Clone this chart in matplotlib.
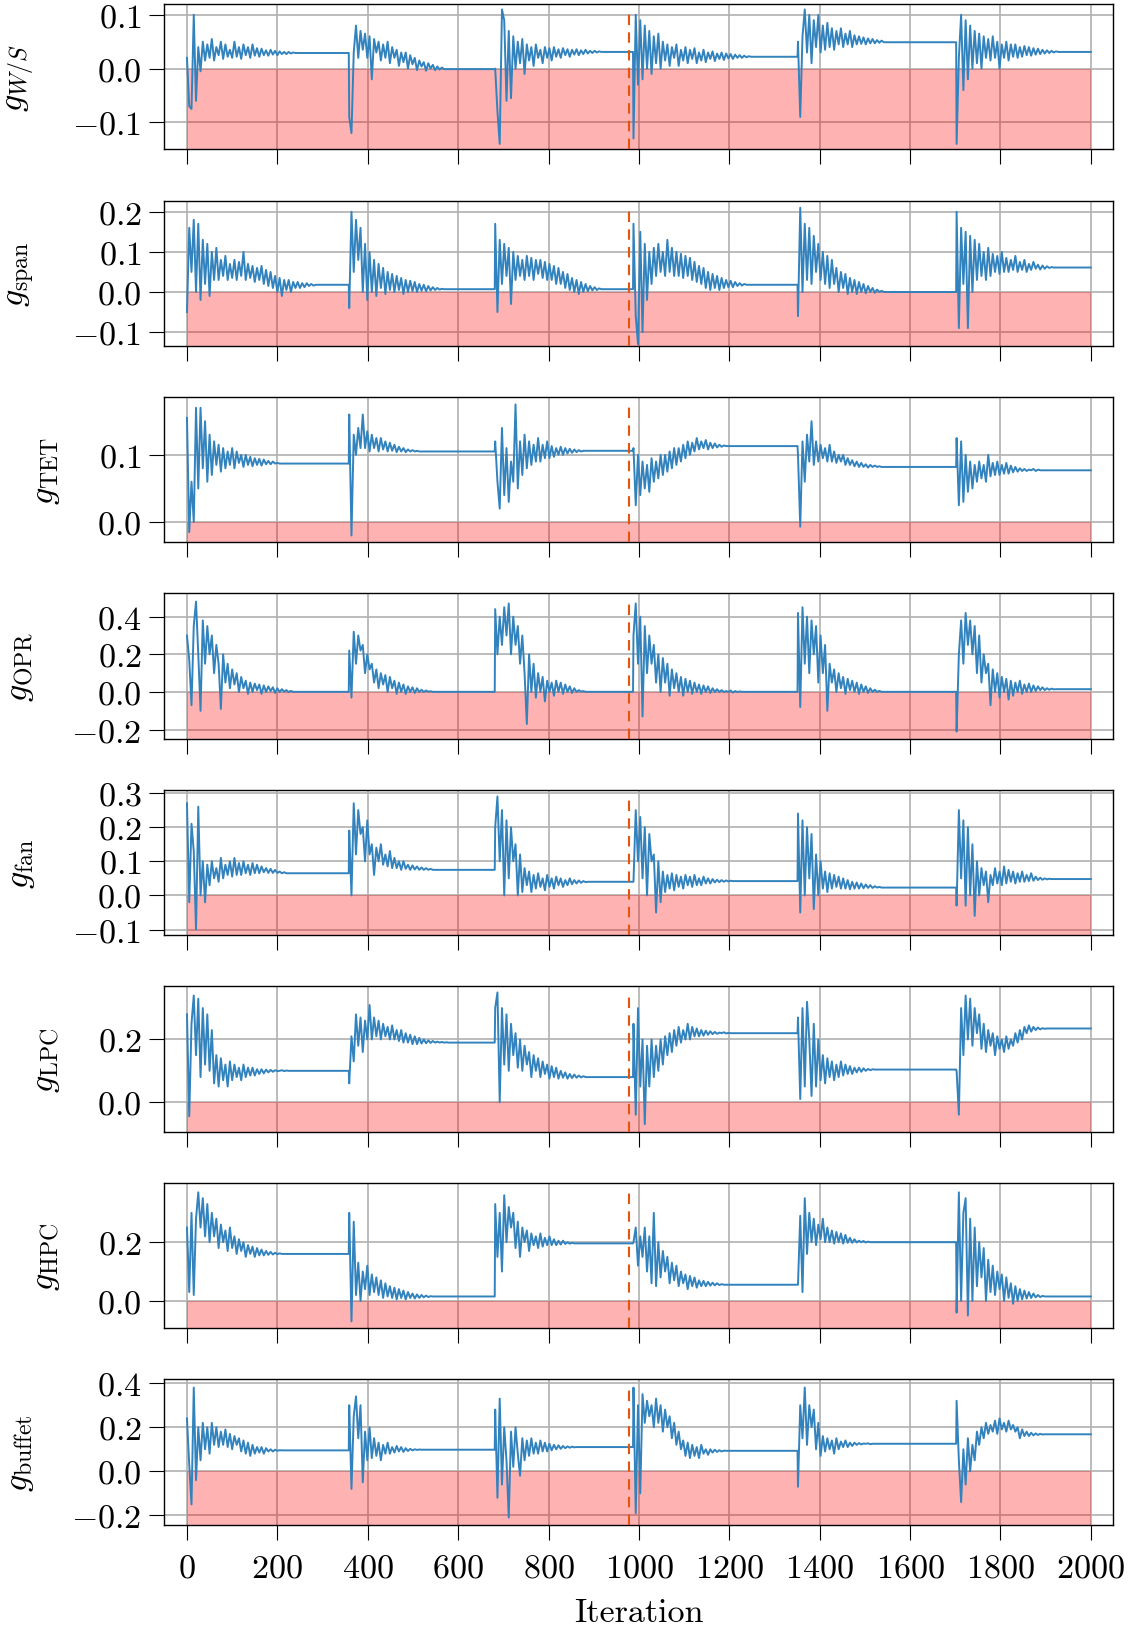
import matplotlib
matplotlib.use("Agg")
import matplotlib.pyplot as plt
from matplotlib.ticker import FuncFormatter

# Restart iterations of the optimiser and sampling step of the values below
restarts = [0, 359, 682, 988, 1352, 1703]
last_iter = 2000
step = 5
dashed_iter = 978

# Values, one list per restart segment (every 5 iterations);
# the last value of each list is held until the next restart
g_ws = [
    [0.02, -0.07, -0.075, 0.1, -0.06, 0.04, -0.005, 0.05, 0.015, 0.045, 0.02, 0.055, 0.015,
     0.04, 0.025, 0.05, 0.018, 0.045, 0.022, 0.035, 0.02, 0.05, 0.022, 0.04, 0.018, 0.045,
     0.025, 0.04, 0.02, 0.045, 0.024, 0.038, 0.022, 0.037, 0.025, 0.034, 0.024, 0.035, 0.026,
     0.033, 0.025, 0.032, 0.027, 0.031, 0.027, 0.031, 0.028, 0.030, 0.029],
    [-0.09, -0.12, 0.03, 0.08, 0.02, 0.07, 0.035, 0.065, 0.02, 0.06, -0.02, 0.055, 0.03, 0.05,
     0.015, 0.045, 0.02, 0.05, 0.01, 0.04, 0.02, 0.035, 0.005, 0.03, 0.012, 0.03, 0.0, 0.025,
     0.008, 0.02, -0.003, 0.015, 0.004, 0.012, -0.004, 0.01, 0.0, 0.007, -0.003, 0.004,
     -0.002, 0.002, -0.001],
    [0.0, -0.08, -0.14, 0.11, 0.09, -0.06, 0.07, -0.055, 0.06, 0.0, 0.05, 0.01, 0.055, -0.01,
     0.045, 0.015, 0.04, 0.005, 0.045, 0.02, 0.035, 0.01, 0.04, 0.02, 0.038, 0.015, 0.04,
     0.022, 0.036, 0.02, 0.038, 0.025, 0.036, 0.022, 0.035, 0.026, 0.036, 0.025, 0.034, 0.027,
     0.035, 0.028, 0.033, 0.029, 0.033, 0.03, 0.032, 0.031],
    [-0.13, 0.1, -0.03, 0.09, -0.02, 0.08, 0.0, 0.07, -0.01, 0.06, 0.01, 0.065, 0.0, 0.05,
     0.015, 0.045, 0.005, 0.04, 0.02, 0.045, 0.005, 0.035, 0.015, 0.04, 0.01, 0.035, 0.018,
     0.038, 0.01, 0.03, 0.015, 0.035, 0.012, 0.03, 0.018, 0.032, 0.014, 0.028, 0.018, 0.03,
     0.016, 0.028, 0.019, 0.027, 0.018, 0.026, 0.02, 0.025, 0.02, 0.024, 0.021, 0.023, 0.022],
    [0.05, -0.09, 0.06, 0.11, 0.03, 0.1, 0.01, 0.09, 0.04, 0.1, 0.03, 0.08, 0.035, 0.085, 0.04,
     0.075, 0.035, 0.07, 0.045, 0.075, 0.04, 0.065, 0.045, 0.07, 0.04, 0.062, 0.045, 0.06,
     0.046, 0.058, 0.045, 0.056, 0.047, 0.055, 0.047, 0.053, 0.048, 0.052, 0.049],
    [-0.14, 0.02, 0.1, -0.04, 0.09, -0.02, 0.08, 0.0, 0.07, 0.01, 0.065, 0.0, 0.06, 0.02,
     0.055, 0.015, 0.06, 0.02, 0.05, 0.0, 0.045, 0.02, 0.05, 0.015, 0.045, 0.022, 0.045, 0.02,
     0.04, 0.022, 0.042, 0.025, 0.04, 0.024, 0.038, 0.026, 0.037, 0.027, 0.035, 0.028, 0.034,
     0.029, 0.033, 0.03, 0.032, 0.031, 0.031],
]

g_span = [
    [-0.05, 0.16, 0.05, 0.18, 0.0, 0.17, -0.02, 0.13, 0.02, 0.12, -0.01, 0.1, 0.03, 0.11,
     0.03, 0.08, 0.04, 0.09, 0.03, 0.07, 0.035, 0.08, 0.03, 0.075, 0.04, 0.1, 0.03, 0.07,
     0.035, 0.065, 0.025, 0.06, 0.03, 0.065, 0.02, 0.055, 0.015, 0.05, 0.01, 0.04, 0.0, 0.035,
     -0.01, 0.03, 0.005, 0.03, 0.0, 0.025, 0.01, 0.025, 0.01, 0.022, 0.012, 0.022, 0.015, 0.02,
     0.016, 0.018],
    [-0.04, 0.2, 0.05, 0.18, 0.08, 0.16, 0.0, 0.12, -0.02, 0.1, 0.0, 0.08, -0.01, 0.07, 0.01,
     0.06, -0.005, 0.05, 0.005, 0.045, 0.0, 0.04, 0.005, 0.035, -0.005, 0.03, 0.0, 0.028,
     0.002, 0.025, 0.0, 0.02, 0.003, 0.018, 0.002, 0.015, 0.004, 0.012, 0.005, 0.01, 0.006,
     0.008, 0.007],
    [0.17, -0.05, 0.13, 0.02, 0.12, 0.04, 0.11, -0.03, 0.1, 0.03, 0.09, 0.04, 0.08, 0.03, 0.09,
     0.04, 0.085, 0.03, 0.08, 0.045, 0.08, 0.035, 0.075, 0.03, 0.07, 0.03, 0.065, 0.02, 0.06,
     0.02, 0.05, 0.01, 0.045, 0.005, 0.035, 0.0, 0.03, -0.005, 0.025, 0.0, 0.02, 0.002, 0.015,
     0.004, 0.012, 0.005, 0.009, 0.007],
    [0.17, -0.06, -0.13, 0.15, -0.1, 0.12, -0.02, 0.1, 0.02, 0.11, 0.04, 0.12, 0.05, 0.1, 0.04,
     0.13, 0.05, 0.11, 0.04, 0.1, 0.04, 0.095, 0.035, 0.09, 0.04, 0.085, 0.03, 0.075, 0.025,
     0.065, 0.02, 0.06, 0.01, 0.05, 0.005, 0.045, 0.01, 0.04, 0.005, 0.035, 0.01, 0.03, 0.012,
     0.028, 0.012, 0.025, 0.015, 0.022, 0.016, 0.02, 0.018],
    [-0.06, 0.21, 0.0, 0.17, 0.03, 0.16, 0.02, 0.14, 0.05, 0.12, 0.03, 0.1, 0.02, 0.09, 0.01,
     0.08, 0.02, 0.06, 0.0, 0.05, 0.01, 0.045, -0.005, 0.035, 0.0, 0.03, -0.005, 0.025, 0.0,
     0.02, -0.003, 0.015, 0.0, 0.01, -0.002, 0.006, 0.0, 0.003, 0.0],
    [0.2, -0.09, 0.16, 0.02, 0.15, -0.09, 0.14, 0.0, 0.13, 0.03, 0.12, 0.04, 0.1, 0.03, 0.11,
     0.04, 0.095, 0.05, 0.09, 0.045, 0.1, 0.05, 0.085, 0.05, 0.08, 0.055, 0.09, 0.05, 0.075,
     0.055, 0.08, 0.05, 0.07, 0.055, 0.075, 0.058, 0.068, 0.056, 0.066, 0.058, 0.064, 0.06,
     0.062, 0.061],
]

g_tet = [
    [0.155, -0.015, 0.06, 0.0, 0.17, 0.05, 0.17, 0.08, 0.15, 0.06, 0.13, 0.07, 0.12, 0.085,
     0.115, 0.075, 0.11, 0.08, 0.105, 0.085, 0.11, 0.08, 0.105, 0.088, 0.1, 0.082, 0.1, 0.085,
     0.097, 0.083, 0.095, 0.085, 0.094, 0.084, 0.093, 0.086, 0.091, 0.086, 0.09, 0.087, 0.088,
     0.087],
    [0.16, -0.02, 0.13, 0.1, 0.14, 0.11, 0.16, 0.11, 0.135, 0.105, 0.13, 0.11, 0.125, 0.105,
     0.125, 0.108, 0.12, 0.105, 0.118, 0.106, 0.115, 0.104, 0.112, 0.105, 0.11, 0.104, 0.108,
     0.105, 0.107, 0.105, 0.106, 0.105],
    [0.12, 0.06, 0.02, 0.14, 0.04, 0.11, 0.03, 0.09, 0.06, 0.175, 0.05, 0.12, 0.07, 0.13, 0.08,
     0.12, 0.085, 0.115, 0.09, 0.125, 0.09, 0.115, 0.095, 0.12, 0.095, 0.113, 0.097, 0.11, 0.1,
     0.112, 0.1, 0.11, 0.102, 0.109, 0.103, 0.108, 0.104, 0.107, 0.105, 0.106],
    [0.11, 0.025, 0.1, 0.04, 0.09, 0.05, 0.085, 0.045, 0.095, 0.06, 0.09, 0.065, 0.1, 0.07,
     0.1, 0.075, 0.105, 0.08, 0.11, 0.085, 0.11, 0.09, 0.115, 0.095, 0.12, 0.1, 0.118, 0.105,
     0.125, 0.108, 0.12, 0.11, 0.122, 0.108, 0.118, 0.11, 0.117, 0.111, 0.115, 0.112, 0.114,
     0.113],
    [0.1, -0.007, 0.12, 0.06, 0.13, 0.09, 0.15, 0.085, 0.12, 0.09, 0.115, 0.095, 0.11, 0.09,
     0.115, 0.09, 0.105, 0.088, 0.1, 0.09, 0.1, 0.085, 0.095, 0.085, 0.092, 0.083, 0.09, 0.082,
     0.088, 0.082, 0.086, 0.081, 0.085, 0.082, 0.084, 0.082, 0.083, 0.082],
    [0.125, 0.025, 0.12, 0.03, 0.1, 0.045, 0.09, 0.05, 0.085, 0.06, 0.09, 0.065, 0.085, 0.06,
     0.1, 0.068, 0.088, 0.07, 0.09, 0.07, 0.085, 0.072, 0.088, 0.072, 0.084, 0.074, 0.082,
     0.075, 0.08, 0.076, 0.079, 0.076, 0.078, 0.077, 0.079, 0.076, 0.078, 0.077],
]

g_opr = [
    [0.3, 0.17, -0.07, 0.35, 0.48, 0.2, -0.1, 0.38, 0.15, 0.35, 0.2, 0.3, 0.1, 0.25, 0.15,
     -0.09, 0.2, 0.05, 0.15, 0.02, 0.12, 0.04, 0.1, 0.0, 0.08, 0.02, 0.06, -0.01, 0.05, 0.0,
     0.045, 0.01, 0.04, -0.01, 0.035, 0.0, 0.03, 0.005, 0.025, -0.005, 0.02, 0.0, 0.015, 0.002,
     0.01, 0.0, 0.006, 0.001],
    [0.22, -0.03, 0.32, 0.15, 0.3, 0.22, 0.25, 0.1, 0.2, 0.12, 0.15, 0.05, 0.12, 0.02, 0.1,
     0.04, 0.09, 0.0, 0.08, 0.02, 0.06, -0.01, 0.05, 0.0, 0.04, -0.01, 0.03, 0.0, 0.025,
     -0.005, 0.02, 0.0, 0.012, 0.0, 0.008, 0.002, 0.004, 0.001],
    [0.44, 0.2, 0.4, 0.25, 0.45, 0.3, 0.47, 0.2, 0.4, 0.25, 0.35, 0.15, 0.3, 0.1, -0.17, 0.2,
     0.0, 0.15, -0.03, 0.1, 0.0, 0.08, -0.05, 0.06, 0.0, 0.05, -0.02, 0.06, 0.0, 0.05, -0.01,
     0.04, 0.0, 0.03, -0.005, 0.02, 0.0, 0.01, 0.002, 0.005, 0.001],
    [0.3, 0.47, 0.15, 0.4, -0.13, 0.35, 0.1, 0.3, 0.15, 0.25, 0.05, 0.2, 0.0, 0.18, 0.05, 0.15,
     -0.02, 0.12, 0.02, 0.1, 0.0, 0.08, -0.02, 0.07, 0.0, 0.06, -0.01, 0.05, 0.0, 0.04, -0.01,
     0.035, 0.0, 0.03, -0.005, 0.02, 0.0, 0.015, 0.0, 0.01, 0.0, 0.005, 0.001, 0.008, -0.003,
     0.005, 0.0, 0.003, 0.001],
    [0.42, -0.08, 0.45, 0.15, 0.4, 0.1, 0.38, 0.2, 0.35, 0.05, 0.3, 0.1, 0.25, -0.1, 0.15,
     0.05, 0.12, 0.0, 0.1, 0.02, 0.08, -0.01, 0.07, 0.01, 0.06, 0.0, 0.05, -0.01, 0.04, 0.0,
     0.03, -0.005, 0.02, 0.0, 0.012, 0.0, 0.006, 0.001],
    [-0.21, 0.2, 0.38, 0.15, 0.42, 0.25, 0.38, 0.2, 0.35, 0.1, 0.3, 0.05, 0.2, 0.1, 0.15,
     -0.07, 0.12, 0.0, 0.1, -0.03, 0.08, 0.0, 0.07, -0.04, 0.06, -0.02, 0.05, 0.0, 0.06, -0.01,
     0.04, 0.0, 0.045, 0.0, 0.035, 0.005, 0.03, 0.01, 0.025, 0.01, 0.02, 0.012, 0.018, 0.014,
     0.015],
]

g_fan = [
    [0.27, -0.02, 0.21, 0.13, -0.1, 0.26, 0.0, 0.1, -0.02, 0.09, 0.03, 0.1, 0.05, 0.08, 0.04,
     0.11, 0.05, 0.09, 0.06, 0.1, 0.055, 0.11, 0.06, 0.095, 0.06, 0.1, 0.065, 0.09, 0.06,
     0.095, 0.065, 0.09, 0.065, 0.085, 0.068, 0.08, 0.066, 0.078, 0.066, 0.075, 0.066, 0.07,
     0.065, 0.068, 0.065],
    [0.19, 0.0, 0.27, 0.12, 0.25, 0.18, 0.2, 0.1, 0.22, 0.12, 0.15, 0.06, 0.14, 0.1, 0.15,
     0.09, 0.12, 0.085, 0.13, 0.08, 0.11, 0.08, 0.1, 0.075, 0.1, 0.078, 0.09, 0.075, 0.088,
     0.076, 0.085, 0.075, 0.082, 0.075, 0.08, 0.075, 0.078, 0.075],
    [0.2, 0.29, 0.1, 0.25, 0.0, 0.22, 0.05, 0.2, 0.1, 0.15, 0.0, 0.12, 0.01, 0.08, 0.03, 0.07,
     0.01, 0.06, 0.02, 0.065, 0.025, 0.05, 0.015, 0.06, 0.025, 0.05, 0.02, 0.055, 0.03, 0.05,
     0.025, 0.045, 0.03, 0.05, 0.033, 0.045, 0.035, 0.044, 0.037, 0.042, 0.039, 0.04],
    [0.04, 0.25, 0.1, 0.23, 0.05, 0.2, 0.0, 0.18, 0.1, 0.12, -0.05, 0.1, -0.02, 0.07, 0.01,
     0.06, 0.02, 0.065, 0.015, 0.06, 0.025, 0.055, 0.02, 0.06, 0.03, 0.055, 0.025, 0.06, 0.03,
     0.05, 0.03, 0.055, 0.035, 0.05, 0.035, 0.048, 0.038, 0.046, 0.039, 0.045, 0.04, 0.044,
     0.041, 0.043, 0.042],
    [0.24, -0.05, 0.22, 0.0, 0.2, 0.05, 0.18, -0.04, 0.12, 0.0, 0.1, 0.02, 0.07, 0.01, 0.065,
     0.02, 0.06, 0.025, 0.055, 0.02, 0.05, 0.02, 0.045, 0.018, 0.04, 0.02, 0.038, 0.02, 0.035,
     0.021, 0.032, 0.022, 0.03, 0.022, 0.027, 0.023, 0.025, 0.023],
    [-0.03, 0.25, 0.05, 0.22, -0.03, 0.2, 0.0, 0.15, -0.06, 0.1, 0.0, 0.08, 0.03, 0.07, -0.02,
     0.06, 0.03, 0.08, 0.035, 0.07, 0.03, 0.085, 0.035, 0.075, 0.04, 0.07, 0.035, 0.065, 0.04,
     0.07, 0.04, 0.06, 0.042, 0.065, 0.043, 0.055, 0.045, 0.052, 0.046, 0.05, 0.047, 0.049,
     0.048],
]

g_lpc = [
    [0.28, -0.045, 0.25, 0.34, 0.15, 0.33, 0.08, 0.3, 0.12, 0.28, 0.1, 0.23, 0.06, 0.15, 0.05,
     0.14, 0.07, 0.12, 0.05, 0.13, 0.07, 0.12, 0.08, 0.11, 0.07, 0.12, 0.08, 0.11, 0.085, 0.11,
     0.085, 0.105, 0.09, 0.105, 0.092, 0.104, 0.095, 0.103, 0.097, 0.102, 0.099, 0.1, 0.102,
     0.099, 0.101, 0.1],
    [0.06, 0.21, 0.13, 0.28, 0.18, 0.27, 0.16, 0.26, 0.2, 0.31, 0.2, 0.27, 0.21, 0.26, 0.2,
     0.25, 0.21, 0.24, 0.2, 0.245, 0.2, 0.23, 0.195, 0.23, 0.19, 0.22, 0.19, 0.215, 0.185,
     0.21, 0.185, 0.205, 0.187, 0.2, 0.188, 0.197, 0.189, 0.195, 0.19, 0.193, 0.19, 0.192,
     0.19, 0.191, 0.19],
    [0.3, 0.35, 0.0, 0.3, 0.12, 0.28, 0.1, 0.25, 0.15, 0.22, 0.11, 0.2, 0.1, 0.18, 0.12, 0.16,
     0.08, 0.15, 0.1, 0.14, 0.08, 0.13, 0.09, 0.12, 0.075, 0.115, 0.08, 0.11, 0.075, 0.1,
     0.078, 0.095, 0.075, 0.09, 0.077, 0.088, 0.078, 0.085, 0.079, 0.083, 0.08],
    [0.25, -0.04, 0.3, 0.05, 0.2, -0.07, 0.18, 0.05, 0.2, 0.08, 0.18, 0.1, 0.2, 0.12, 0.21,
     0.15, 0.22, 0.16, 0.23, 0.18, 0.24, 0.19, 0.23, 0.2, 0.25, 0.2, 0.24, 0.21, 0.235, 0.21,
     0.23, 0.212, 0.228, 0.215, 0.226, 0.217, 0.224, 0.218, 0.222, 0.22, 0.223, 0.219, 0.221,
     0.22],
    [0.27, 0.01, 0.3, 0.05, 0.32, 0.2, 0.02, 0.25, 0.05, 0.2, 0.07, 0.15, 0.06, 0.14, 0.08,
     0.13, 0.07, 0.12, 0.08, 0.13, 0.085, 0.12, 0.09, 0.115, 0.09, 0.11, 0.095, 0.11, 0.097,
     0.108, 0.1, 0.106, 0.102, 0.105, 0.104],
    [0.1, -0.04, 0.3, 0.15, 0.34, 0.2, 0.33, 0.18, 0.3, 0.22, 0.28, 0.17, 0.25, 0.16, 0.23,
     0.18, 0.22, 0.15, 0.21, 0.17, 0.2, 0.16, 0.21, 0.17, 0.2, 0.18, 0.22, 0.19, 0.23, 0.2,
     0.24, 0.22, 0.245, 0.225, 0.24, 0.23, 0.238, 0.232, 0.236, 0.234, 0.235],
]

g_hpc = [
    [0.25, 0.03, 0.3, 0.02, 0.28, 0.37, 0.25, 0.35, 0.22, 0.33, 0.2, 0.3, 0.22, 0.28, 0.18,
     0.26, 0.2, 0.24, 0.17, 0.25, 0.18, 0.22, 0.16, 0.21, 0.17, 0.2, 0.15, 0.19, 0.16, 0.185,
     0.15, 0.18, 0.155, 0.175, 0.155, 0.17, 0.157, 0.167, 0.158, 0.164, 0.159, 0.162, 0.16],
    [0.3, -0.07, 0.27, 0.02, 0.13, 0.0, 0.1, 0.04, 0.12, 0.02, 0.09, 0.03, 0.08, 0.02, 0.07,
     0.01, 0.06, 0.015, 0.05, 0.01, 0.045, 0.005, 0.04, 0.01, 0.035, 0.005, 0.03, 0.01, 0.025,
     0.008, 0.022, 0.01, 0.02, 0.012, 0.018, 0.013, 0.016, 0.015],
    [0.33, 0.15, 0.3, 0.1, 0.36, 0.2, 0.32, 0.25, 0.3, 0.18, 0.27, 0.15, 0.25, 0.2, 0.24,
     0.17, 0.23, 0.19, 0.22, 0.18, 0.23, 0.185, 0.215, 0.19, 0.22, 0.19, 0.21, 0.19, 0.205,
     0.192, 0.205, 0.194, 0.2, 0.195, 0.198, 0.196],
    [0.2, 0.25, 0.12, 0.22, 0.15, 0.25, 0.1, 0.22, 0.06, 0.3, 0.05, 0.2, 0.08, 0.17, 0.1, 0.15,
     0.06, 0.13, 0.07, 0.12, 0.05, 0.1, 0.06, 0.09, 0.04, 0.085, 0.05, 0.08, 0.045, 0.07, 0.05,
     0.068, 0.05, 0.065, 0.052, 0.062, 0.053, 0.06, 0.054, 0.057, 0.055],
    [0.055, 0.29, 0.03, 0.35, 0.16, 0.3, 0.2, 0.28, 0.19, 0.26, 0.21, 0.28, 0.2, 0.25, 0.2,
     0.24, 0.195, 0.235, 0.2, 0.23, 0.195, 0.225, 0.198, 0.215, 0.198, 0.21, 0.199, 0.205, 0.2,
     0.204, 0.199, 0.202, 0.2],
    [-0.04, 0.37, 0.0, 0.3, 0.35, -0.05, 0.28, 0.0, 0.25, 0.05, 0.2, 0.08, 0.18, 0.0, 0.14,
     0.03, 0.12, 0.02, 0.1, 0.04, 0.09, 0.0, 0.08, 0.01, 0.06, -0.01, 0.05, 0.0, 0.04, 0.005,
     0.035, 0.008, 0.03, 0.01, 0.025, 0.012, 0.02, 0.013, 0.017, 0.015],
]

g_buffet = [
    [0.24, 0.03, -0.15, 0.38, -0.04, 0.2, 0.05, 0.22, 0.1, 0.2, 0.08, 0.22, 0.12, 0.2, 0.11,
     0.18, 0.12, 0.19, 0.11, 0.17, 0.1, 0.16, 0.12, 0.15, 0.09, 0.14, 0.08, 0.13, 0.07, 0.12,
     0.08, 0.11, 0.085, 0.11, 0.08, 0.105, 0.09, 0.1, 0.09, 0.098, 0.093, 0.096, 0.095],
    [0.3, -0.08, 0.25, 0.34, 0.15, 0.3, -0.05, 0.18, 0.05, 0.2, 0.06, 0.15, 0.07, 0.13, 0.05,
     0.12, 0.08, 0.13, 0.08, 0.11, 0.085, 0.115, 0.09, 0.11, 0.088, 0.105, 0.092, 0.102, 0.095,
     0.1, 0.097, 0.099, 0.098],
    [0.28, -0.12, 0.33, -0.06, 0.2, 0.05, -0.21, 0.18, 0.02, 0.2, 0.08, -0.02, 0.15, 0.05,
     0.14, 0.07, 0.15, 0.08, 0.13, 0.08, 0.14, 0.09, 0.13, 0.09, 0.125, 0.095, 0.12, 0.1,
     0.118, 0.102, 0.115, 0.105, 0.113, 0.107, 0.112, 0.109, 0.11],
    [0.38, -0.19, 0.3, -0.1, 0.35, 0.22, 0.32, 0.25, 0.3, 0.2, 0.33, 0.22, 0.3, 0.18, 0.28,
     0.2, 0.25, 0.15, 0.22, 0.12, 0.18, 0.1, 0.14, 0.07, 0.13, 0.06, 0.12, 0.07, 0.11, 0.06,
     0.12, 0.08, 0.1, 0.075, 0.1, 0.085, 0.098, 0.088, 0.096, 0.09, 0.094, 0.093],
    [-0.07, 0.3, 0.15, 0.38, 0.12, 0.3, 0.2, 0.28, 0.1, 0.22, 0.07, 0.16, 0.09, 0.15, 0.1,
     0.14, 0.08, 0.15, 0.1, 0.135, 0.11, 0.14, 0.11, 0.13, 0.115, 0.13, 0.12, 0.128, 0.122,
     0.126, 0.125, 0.127, 0.123, 0.125],
    [0.32, 0.05, -0.14, 0.1, -0.06, 0.15, 0.0, 0.12, 0.05, 0.18, 0.12, 0.2, 0.15, 0.22, 0.17,
     0.21, 0.18, 0.23, 0.17, 0.24, 0.19, 0.22, 0.18, 0.23, 0.19, 0.21, 0.18, 0.2, 0.15, 0.19,
     0.16, 0.18, 0.16, 0.175, 0.163, 0.172, 0.165, 0.17, 0.167, 0.168],
]

series = [g_ws, g_span, g_tet, g_opr, g_fan, g_lpc, g_hpc, g_buffet]
labels = [r"$g_{W/S}$", r"$g_{\mathrm{span}}$", r"$g_{\mathrm{TET}}$", r"$g_{\mathrm{OPR}}$",
          r"$g_{\mathrm{fan}}$", r"$g_{\mathrm{LPC}}$", r"$g_{\mathrm{HPC}}$",
          r"$g_{\mathrm{buffet}}$"]
ylims = [(-0.15, 0.12), (-0.134, 0.228), (-0.03, 0.186), (-0.248, 0.523),
         (-0.1165, 0.309), (-0.094, 0.369), (-0.093, 0.402), (-0.242, 0.417)]
yticks = [[-0.1, 0.0, 0.1], [-0.1, 0.0, 0.1, 0.2], [0.0, 0.1], [-0.2, 0.0, 0.2, 0.4],
          [-0.1, 0.0, 0.1, 0.2, 0.3], [0.0, 0.2], [0.0, 0.2], [-0.2, 0.0, 0.2, 0.4]]
xticks = [0, 200, 400, 600, 800, 1000, 1200, 1400, 1600, 1800, 2000]


def build(segs):
    # Turn the per-segment lists into one x/y line
    xs, ys = [], []
    for k, vals in enumerate(segs):
        start = restarts[k]
        end = restarts[k + 1] - 1 if k + 1 < len(restarts) else last_iter
        for i, v in enumerate(vals):
            xs.append(start + step * i)
            ys.append(v)
        xs.append(end)
        ys.append(vals[-1])
    return xs, ys


def main():
    plt.rcParams["font.family"] = "serif"
    plt.rcParams["font.serif"] = ["cmr10"]
    plt.rcParams["mathtext.fontset"] = "cm"
    plt.rcParams["axes.unicode_minus"] = False
    plt.rcParams["font.size"] = 24.5

    fig, axes = plt.subplots(8, 1, figsize=(11.29, 16.31), dpi=100)
    fig.subplots_adjust(left=0.1456, right=0.9862, top=0.9969, bottom=0.0646, hspace=0.353)

    fmt = FuncFormatter(lambda v, p: r"$%.1f$" % v)
    xfmt = FuncFormatter(lambda v, p: r"$%d$" % v)

    for i, ax in enumerate(axes):
        xs, ys = build(series[i])
        lo, hi = ylims[i]

        # Infeasible region below zero
        ax.fill_between([0, last_iter], lo, 0, color="red", alpha=0.3, linewidth=0, zorder=1)
        ax.plot(xs, ys, color="#3182bd", linewidth=1.4, zorder=3)
        ax.axvline(dashed_iter, ymin=0, ymax=0.935, color="#e6550d", linestyle=(0, (5, 3.5)),
                   linewidth=1.5, zorder=4)

        ax.set_xlim(-50, 2050)
        ax.set_ylim(lo, hi)
        ax.set_yticks(yticks[i])
        ax.yaxis.set_major_formatter(fmt)
        ax.set_xticks(xticks)
        ax.grid(True, color="#b0b0b0", linewidth=1.2)
        ax.set_axisbelow(True)
        ax.tick_params(axis="both", length=10.5, width=0.8, pad=6)
        ax.tick_params(axis="x", pad=10.5)
        ax.set_ylabel(labels[i], labelpad=25.5)
        for sp in ax.spines.values():
            sp.set_linewidth(1.0)

        if i < len(axes) - 1:
            ax.tick_params(axis="x", labelbottom=False)
        else:
            ax.xaxis.set_major_formatter(xfmt)
            ax.set_xlabel("Iteration", labelpad=11)

    plt.savefig("out.png", dpi=100)


if __name__ == "__main__":
    main()
